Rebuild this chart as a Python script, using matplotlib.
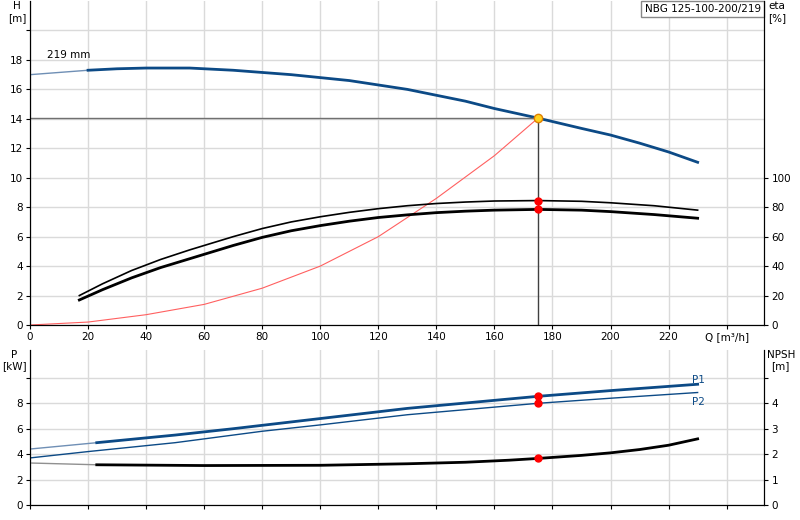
import matplotlib
matplotlib.use("Agg")
import matplotlib.pyplot as plt

q_h = [0, 20, 30, 40, 55, 70, 80, 90, 100, 110, 120, 130, 140, 150, 160, 175, 190, 200, 210, 220, 230]
h = [17.0, 17.3, 17.4, 17.45, 17.45, 17.3, 17.15, 17.0, 16.8, 16.6, 16.3, 16.0, 15.6, 15.2, 14.7, 14.05, 13.35, 12.9, 12.35, 11.75, 11.05]
q_sys = [0, 20, 40, 60, 80, 100, 120, 140, 160, 175]
h_sys = [0, 0.2, 0.7, 1.4, 2.5, 4.0, 6.0, 8.6, 11.5, 14.05]
q_eta = [17, 25, 35, 45, 55, 70, 80, 90, 100, 110, 120, 130, 140, 150, 160, 175, 190, 200, 215, 230]
eta1 = [20, 28, 37, 44.5, 51, 60, 65.5, 70, 73.5, 76.5, 79, 81, 82.5, 83.5, 84.2, 84.5, 84, 83, 81, 78]
eta2 = [17, 24, 32, 39, 45, 54, 59.5, 64, 67.5, 70.5, 73, 74.8, 76.3, 77.3, 78, 78.5, 78, 77, 75, 72.5]
q_p = [0, 23, 50, 70, 100, 130, 175, 200, 230]
p1 = [4.4, 4.9, 5.5, 6.0, 6.8, 7.6, 8.55, 9.0, 9.5]
q_p2 = [0, 20, 50, 80, 100, 130, 175, 200, 230]
p2 = [3.7, 4.2, 4.9, 5.8, 6.3, 7.1, 8.0, 8.4, 8.85]
q_n = [0, 23, 60, 100, 130, 150, 165, 175, 190, 200, 210, 220, 230]
npsh = [1.65, 1.58, 1.55, 1.56, 1.62, 1.68, 1.76, 1.83, 1.95, 2.05, 2.18, 2.35, 2.6]
q_duty = 175
xticks = [0, 20, 40, 60, 80, 100, 120, 140, 160, 180, 200, 220]

BLUE = "#0c4a86"
GRID = "#dadada"
plt.rcParams["font.size"] = 7.5
fig = plt.figure(figsize=(8, 5.2), dpi=100)
ax = fig.add_axes([0.0375, 0.375, 0.918, 0.623])
ax.set_xlim(0, 253); ax.set_ylim(0, 22)
ax.set_xticks(xticks + [240]); ax.set_xticklabels([str(t) for t in xticks] + ["Q [m³/h]"])
ax.set_yticks(range(0, 22, 2)); ax.set_yticklabels([str(t) for t in range(0, 19, 2)] + [""])
ax.grid(True, color=GRID, lw=1)
ax.spines["top"].set_visible(False)
ax.tick_params(length=3, pad=2)

a = [(x, v) for x, v in zip(q_h, h) if x <= 20]; b = [(x, v) for x, v in zip(q_h, h) if x >= 20]
ax.plot(*zip(*a), color="#6f8fb5", lw=1)
ax.plot(*zip(*b), color=BLUE, lw=2)
ax.plot(q_sys, h_sys, color="#ff6060", lw=0.8)
ax.plot(q_eta, [e / 10 for e in eta1], color="black", lw=1.2)
ax.plot(q_eta, [e / 10 for e in eta2], color="black", lw=2)
hd = h[q_h.index(175)]
ax.plot([0, q_duty], [hd, hd], color="#707070", lw=1)
ax.plot([q_duty, q_duty], [0, hd], color="#404040", lw=1)
ax.plot(q_duty, hd, "o", color="#ffd21f", mec="#e08000", ms=6, zorder=5)
i = q_eta.index(175)
ax.plot([q_duty, q_duty], [eta1[i] / 10, eta2[i] / 10], "o", color="red", ms=5, zorder=5)
ax.text(6, 18.1, "219 mm", fontsize=7.5)
ax.text(-0.005, 1.0, "H\n[m]", transform=ax.transAxes, ha="right", va="top", fontsize=7.5, multialignment="center")
axr = ax.twinx(); axr.set_ylim(0, 220)
axr.set_yticks(range(0, 101, 20)); axr.tick_params(length=3, pad=2)
axr.spines["top"].set_visible(False)
ax.text(1.005, 1.0, "eta\n[%]", transform=ax.transAxes, ha="left", va="top", fontsize=7.5)
ax.text(0.995, 0.99, "NBG 125-100-200/219", transform=ax.transAxes, ha="right", va="top", fontsize=7.5,
        bbox=dict(boxstyle="square,pad=0.3", fc="white", ec="#888888"))

bx = fig.add_axes([0.0375, 0.029, 0.918, 0.298])
bx.set_xlim(0, 253); bx.set_ylim(0, 12.2)
bx.set_xticks(xticks + [240]); bx.set_xticklabels([])
bx.set_yticks([0, 2, 4, 6, 8, 10]); bx.set_yticklabels(["0", "2", "4", "6", "8", ""])
bx.grid(True, color=GRID, lw=1); bx.tick_params(length=3, pad=2)
bx.spines["top"].set_visible(False)
bx.plot(q_p[:2], p1[:2], color="#6f8fb5", lw=1); bx.plot(q_p[1:], p1[1:], color=BLUE, lw=2)
bx.plot(q_p2, p2, color=BLUE, lw=1)
bx.text(228, 9.6, "P1", color=BLUE, fontsize=7.5); bx.text(228, 7.9, "P2", color=BLUE, fontsize=7.5)
bx.plot([q_duty, q_duty], [p1[6], p2[6]], "o", color="red", ms=5, zorder=5)
bxr = bx.twinx(); bxr.set_ylim(0, 6.1)
bxr.set_yticks([0, 1, 2, 3, 4, 5]); bxr.set_yticklabels(["0", "1", "2", "3", "4", ""])
bxr.tick_params(length=3, pad=2); bxr.spines["top"].set_visible(False)
bxr.plot(q_n[:2], npsh[:2], color="#909090", lw=1); bxr.plot(q_n[1:], npsh[1:], color="black", lw=2)
bxr.plot(q_duty, npsh[q_n.index(175)], "o", color="red", ms=5, zorder=5)
bx.text(-0.005, 1.0, "P\n[kW]", transform=bx.transAxes, ha="right", va="top", fontsize=7.5, multialignment="center")
bx.text(1.003, 1.0, "NPSH\n[m]", transform=bx.transAxes, ha="left", va="top", fontsize=7.5, multialignment="center")
fig.savefig("out.png")
